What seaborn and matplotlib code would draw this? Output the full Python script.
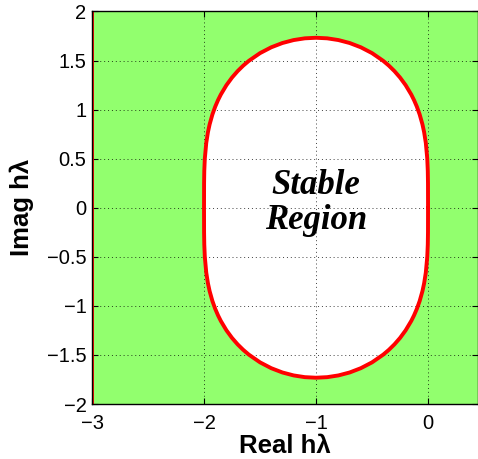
import matplotlib
matplotlib.use("Agg")
import matplotlib.pyplot as plt
import seaborn as sns
import pandas as pd

# Boundary of the stability region |1 + hλ + (hλ)^2/2| = 1, traced counter-clockwise
boundary_x = [
    0.0, -0.0005, -0.0023, -0.007, -0.02, -0.035, -0.05, -0.075, -0.1, -0.125, -0.15,
    -0.2, -0.25, -0.3, -0.35, -0.4, -0.5, -0.6, -0.7, -0.8, -0.9, -1.0,
    -1.1, -1.2, -1.3, -1.4, -1.5, -1.6, -1.65, -1.7, -1.75, -1.8, -1.85, -1.875,
    -1.9, -1.925, -1.95, -1.965, -1.98, -1.993, -1.9977, -1.9995, -2.0,
    -1.9995, -1.9977, -1.993, -1.98, -1.965, -1.95, -1.925, -1.9, -1.875, -1.85,
    -1.8, -1.75, -1.7, -1.65, -1.6, -1.5, -1.4, -1.3, -1.2, -1.1, -1.0,
    -0.9, -0.8, -0.7, -0.6, -0.5, -0.4, -0.35, -0.3, -0.25, -0.2, -0.15, -0.125,
    -0.1, -0.075, -0.05, -0.035, -0.02, -0.007, -0.0023, -0.0005, 0.0,
]
boundary_y = [
    0.0, 0.25, 0.375, 0.5, 0.6615, 0.7702, 0.8497, 0.9510, 1.0304, 1.0966, 1.1537,
    1.2490, 1.3268, 1.3922, 1.4482, 1.4967, 1.5755, 1.6349, 1.6787, 1.7087, 1.7263, 1.7321,
    1.7263, 1.7087, 1.6787, 1.6349, 1.5755, 1.4967, 1.4482, 1.3922, 1.3268, 1.2490, 1.1537, 1.0966,
    1.0304, 0.9510, 0.8497, 0.7702, 0.6615, 0.5, 0.375, 0.25, 0.0,
    -0.25, -0.375, -0.5, -0.6615, -0.7702, -0.8497, -0.9510, -1.0304, -1.0966, -1.1537,
    -1.2490, -1.3268, -1.3922, -1.4482, -1.4967, -1.5755, -1.6349, -1.6787, -1.7087, -1.7263, -1.7321,
    -1.7263, -1.7087, -1.6787, -1.6349, -1.5755, -1.4967, -1.4482, -1.3922, -1.3268, -1.2490, -1.1537, -1.0966,
    -1.0304, -0.9510, -0.8497, -0.7702, -0.6615, -0.5, -0.375, -0.25, 0.0,
]

# Left edge of the evaluation grid (contour traces it too)
grid_left = -3.0

x_ticks = [-3, -2, -1, 0]
y_ticks = [-2, -1.5, -1, -0.5, 0, 0.5, 1, 1.5, 2]
x_limits = (-3.0, 0.446)
y_limits = (-2.0, 2.0)

region_label = "Stable\nRegion"
x_label = "Real hλ"
y_label = "Imag hλ"

sns.set_style("white")
plt.rcParams["font.family"] = ["Liberation Sans", "DejaVu Sans"]
plt.rcParams["axes.unicode_minus"] = True
plt.rcParams["text.color"] = "black"
plt.rcParams["axes.labelcolor"] = "black"

fig = plt.figure(figsize=(4.78, 4.59), dpi=100)
ax = fig.add_axes([0.1925, 0.1198, 0.8075, 0.8552])

green = "#92FF6E"
ax.set_facecolor(green)

# stable region: white interior with a red outline
ax.fill(boundary_x, boundary_y, color="white", zorder=1)
df = pd.DataFrame({"x": boundary_x, "y": boundary_y})
sns.lineplot(data=df, x="x", y="y", sort=False, estimator=None, color="red",
             linewidth=2.8, ax=ax, zorder=3)
ax.axvline(grid_left, color="red", linewidth=2.8, zorder=3)

ax.set_xlim(*x_limits)
ax.set_ylim(*y_limits)
ax.set_xticks(x_ticks)
ax.set_yticks(y_ticks)
ax.set_xticklabels([f"{t:g}".replace("-", "\u2212") for t in x_ticks])
ax.set_yticklabels([f"{t:g}".replace("-", "\u2212") for t in y_ticks])
ax.tick_params(direction="in", length=4, width=0.8, labelsize=14.5, colors="black",
               top=True, right=True, bottom=True, left=True)
ax.tick_params(axis="x", pad=7)
ax.tick_params(axis="y", pad=4)

ax.grid(True, linestyle=(0, (1, 3)), color="black", linewidth=0.7, alpha=0.75, zorder=2)
ax.set_axisbelow(False)

for side in ("top", "bottom", "left", "right"):
    ax.spines[side].set_color("black")
    ax.spines[side].set_linewidth(1.0)
    ax.spines[side].set_zorder(4)

ax.set_xlabel(x_label, fontsize=18.5, fontweight="bold", labelpad=1, color="black")
ax.set_ylabel(y_label, fontsize=18.5, fontweight="bold", labelpad=9, color="black")

ax.text(-1.0, 0.05, region_label, ha="center", va="center", fontsize=25,
        fontweight="bold", fontstyle="italic", family=["Liberation Serif", "DejaVu Serif"],
        linespacing=1.1, color="black", zorder=5)

fig.savefig("out.png", dpi=100)
